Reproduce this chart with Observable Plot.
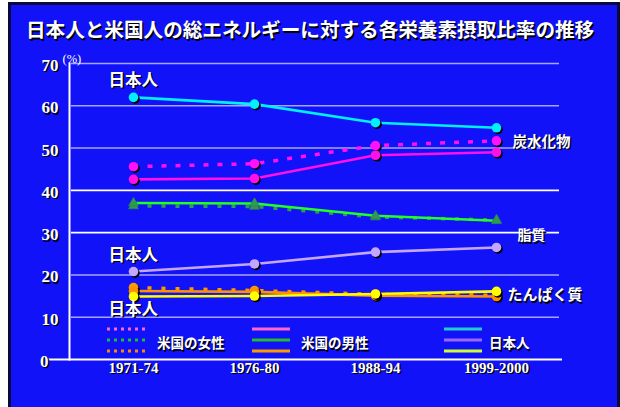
<!DOCTYPE html>
<html lang="ja">
<head>
<meta charset="utf-8">
<script src="https://cdn.jsdelivr.net/npm/d3@7"></script>
<script src="https://cdn.jsdelivr.net/npm/@observablehq/plot@0.6"></script>
<style>
  html, body { margin: 0; padding: 0; background: #ffffff; }
  #wrap { position: relative; width: 620px; height: 407px; overflow: hidden; }
  #panel { position: absolute; left: 8px; top: 2px; width: 606px; height: 420px;
           background: #1212f8; border: 3px solid #0a0a38; }
  #title { position: absolute; left: 26px; top: 18px; white-space: nowrap;
           font: bold 19.6px "Noto Sans CJK JP", sans-serif; line-height: 22px;
           color: #ffffff; text-shadow: 1.5px 1.5px 0 #000000; }
  #chart, #legend { position: absolute; left: 0; top: 0; }
</style>
</head>
<body>
<div id="wrap">
  <div id="panel"></div>
  <div id="chart"></div>
  <svg id="legend" width="620" height="407"></svg>
  <div id="title">日本人と米国人の総エネルギーに対する各栄養素摂取比率の推移</div>
</div>
<script>
// 期間
const periods = ["1971-74", "1976-80", "1988-94", "1999-2000"];

// 炭水化物 (%)
const carbUSWomen = [45.6, 46.3, 50.6, 51.7];
const carbUSMen   = [42.6, 42.8, 48.3, 49.0];
const carbJapan   = [62.0, 60.4, 56.0, 54.8];

// 脂質 (%)
const fatUSWomen = [36.3, 36.2, 33.7, 33.0];
const fatUSMen   = [37.0, 36.9, 34.0, 32.8];
const fatJapan   = [20.8, 22.6, 25.4, 26.5];

// たんぱく質 (%)
const proteinUSWomen = [17.0, 16.3, 15.4, 15.2];
const proteinUSMen   = [16.2, 16.0, 15.1, 14.9];
const proteinJapan   = [14.9, 15.0, 15.5, 16.1];

// 目盛
const yTicks = [0, 10, 20, 30, 40, 50, 60, 70];
const gridLight = [10, 20, 50, 60, 70];
const gridWhite = [30, 40];

// 凡例
const legendGroups = ["米国の女性", "米国の男性", "日本人"];

const series = [
  {v: carbUSWomen,    color: "#ff10ff", dash: "5,9",  sym: "circle"},
  {v: carbUSMen,      color: "#ff10e8", dash: null,   sym: "circle"},
  {v: carbJapan,      color: "#00f0ff", dash: null,   sym: "circle"},
  {v: fatUSWomen,     color: "#2e9a55", dash: "4,10", sym: "triangle"},
  {v: fatUSMen,       color: "#22ff22", dash: null,   sym: "triangle"},
  {v: fatJapan,       color: "#c4a6ff", dash: null,   sym: "circle"},
  {v: proteinUSWomen, color: "#ff9900", dash: "4,10", sym: "circle"},
  {v: proteinUSMen,   color: "#ff9000", dash: null,   sym: "circle"},
  {v: proteinJapan,   color: "#ffff00", dash: null,   sym: "circle"}
];
const rowsOf = s => periods.map((p, i) => ({period: p, value: s.v[i]}));

const jpFont = '"Noto Sans CJK JP", sans-serif';
const serifFont = '"Liberation Serif", "Times New Roman", serif';

function shadowText(data, opts) {
  const dx = opts.dx || 0, dy = opts.dy || 0;
  return [
    Plot.text(data, {...opts, fill: "#000000", dx: dx + 1.5, dy: dy + 1.5}),
    Plot.text(data, {...opts, fill: "#ffffff"})
  ];
}

const lineMarks = series.map(s => Plot.line(rowsOf(s), {
  x: "period", y: "value", stroke: s.color,
  strokeWidth: s.dash ? 3.5 : 2.6, strokeDasharray: s.dash || undefined,
  strokeLinecap: "butt", curve: "linear"
}));

const dotMarks = series.flatMap(s => s.sym === "triangle"
  ? [Plot.dot(rowsOf(s), {x: "period", y: "value", symbol: "triangle", r: 3.6, fill: "#2e9a55", stroke: "#2a8a4a", strokeWidth: 0.8})]
  : [Plot.dot(rowsOf(s), {x: "period", y: "value", r: 4.8, fill: "#000000", dx: 1.5, dy: 1.5}),
     Plot.dot(rowsOf(s), {x: "period", y: "value", r: 4.8, fill: s.color})]);

const labelOpts = {x: "period", y: "value", text: "t", fontFamily: jpFont, fontWeight: "bold", textAnchor: "start"};

const chart = Plot.plot({
  width: 620,
  height: 407,
  marginLeft: 69,
  marginRight: 61,
  marginTop: 63,
  marginBottom: 48,
  style: {background: "transparent", color: "#ffffff", overflow: "visible"},
  x: {type: "point", domain: periods, padding: 0.52, axis: null},
  y: {domain: [0, 70], axis: null},
  marks: [
    Plot.ruleY(gridLight, {stroke: "#a6a6ff", strokeWidth: 1.6, insetLeft: 2}),
    Plot.ruleY(gridWhite, {stroke: "#ffffff", strokeWidth: 1.6, insetLeft: 2}),
    Plot.ruleY([0], {stroke: "#ffffff", strokeWidth: 2, insetLeft: -21, insetRight: -3}),
    Plot.frame({anchor: "left", stroke: "#ffffff", strokeWidth: 2}),
    ...shadowText(yTicks.filter(d => d > 0), {y: d => d, text: d => String(d), frameAnchor: "left", dx: -11, dy: 2,
      textAnchor: "end", fontFamily: serifFont, fontWeight: "bold", fontSize: 17}),
    ...shadowText([0], {y: d => d, text: d => String(d), frameAnchor: "left", dx: -21, dy: 2,
      textAnchor: "end", fontFamily: serifFont, fontWeight: "bold", fontSize: 17}),
    Plot.text(["(%)"], {frameAnchor: "top-left", text: d => d, dx: -7, dy: -9,
      textAnchor: "start", fontFamily: serifFont, fontSize: 12.5, fill: "#ffffff"}),
    ...shadowText(periods, {x: d => d, text: d => d, frameAnchor: "bottom", dy: 13,
      fontFamily: serifFont, fontWeight: "bold", fontSize: 15}),
    ...lineMarks,
    ...dotMarks,
    ...shadowText([{period: periods[0], value: carbJapan[0], t: "日本人"}], {...labelOpts, dx: -25, dy: -17, fontSize: 16.5}),
    ...shadowText([{period: periods[0], value: fatJapan[0], t: "日本人"}], {...labelOpts, dx: -25, dy: -16, fontSize: 16.5}),
    ...shadowText([{period: periods[0], value: proteinJapan[0], t: "日本人"}], {...labelOpts, dx: -25, dy: 13, fontSize: 16.5}),
    ...shadowText([{period: periods[3], value: carbUSWomen[3], t: "炭水化物"}], {...labelOpts, dx: 16, dy: 1, fontSize: 14.5}),
    ...shadowText([{period: periods[3], value: fatUSMen[3], t: "脂質"}], {...labelOpts, dx: 21, dy: 15, fontSize: 14}),
    ...shadowText([{period: periods[3], value: proteinJapan[3], t: "たんぱく質"}], {...labelOpts, dx: 11, dy: 4, fontSize: 15})
  ]
});
document.getElementById("chart").appendChild(chart);

// 凡例: 列ごとに 3 本の線見本 (炭水化物・脂質・たんぱく質) と群名
const legendCols = [
  {x: 107, textX: 157, dash: "3,4", colors: ["#ff66cc", "#22bb33", "#ff8800"]},
  {x: 252, textX: 301, dash: null,  colors: ["#ff66cc", "#22bb33", "#ff9900"]},
  {x: 444, textX: 489, dash: null,  colors: ["#22cccc", "#9966ff", "#ccff33"]}
];
const lg = d3.select("#legend");
legendCols.forEach((c, ci) => {
  c.colors.forEach((col, ri) => {
    lg.append("line")
      .attr("x1", c.x).attr("x2", c.x + 38)
      .attr("y1", 329 + ri * 11).attr("y2", 329 + ri * 11)
      .attr("stroke", col).attr("stroke-width", 3)
      .attr("stroke-dasharray", c.dash);
  });
  [["#000000", 1.5], ["#ffffff", 0]].forEach(([fill, off]) => {
    lg.append("text")
      .attr("x", c.textX + off).attr("y", 342 + off)
      .attr("dominant-baseline", "central")
      .attr("font-family", jpFont).attr("font-weight", "bold").attr("font-size", 13.5)
      .attr("fill", fill)
      .text(legendGroups[ci]);
  });
});
</script>
</body>
</html>
